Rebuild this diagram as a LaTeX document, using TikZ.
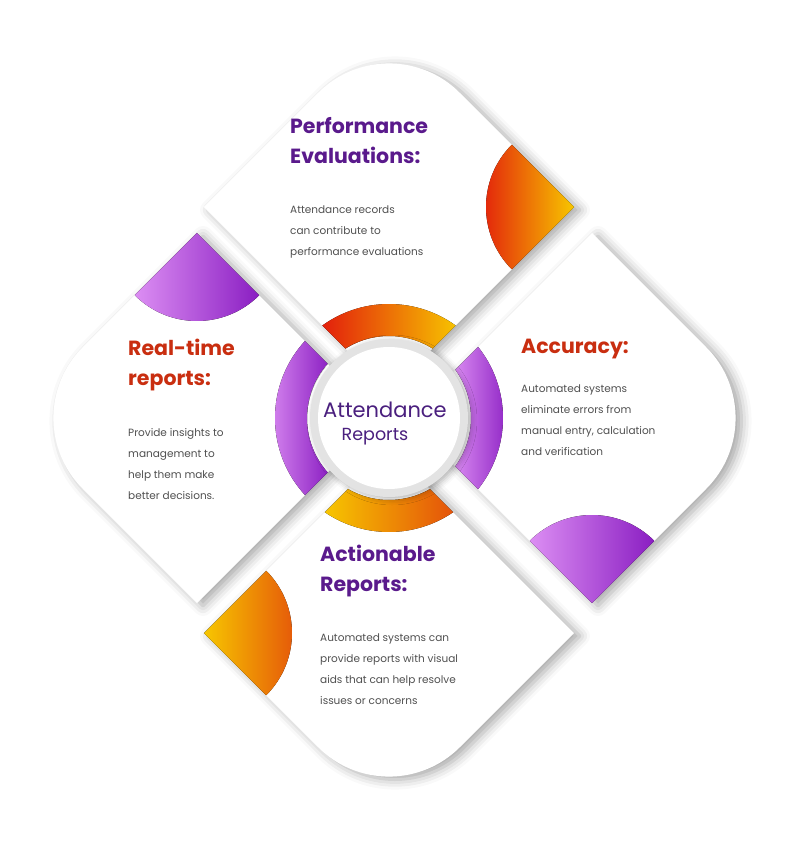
\documentclass[tikz,border=0pt]{standalone}
\usepackage{fontspec}
\setmainfont{Poppins}
\usetikzlibrary{shadows.blur}

\definecolor{evred}{HTML}{E21B0C}
\definecolor{evorange}{HTML}{EE7A05}
\definecolor{evyellow}{HTML}{F7C600}
\definecolor{evdeep}{HTML}{E4520A}
\definecolor{vlight}{HTML}{DC8EF3}
\definecolor{vdark}{HTML}{8A1EC2}
\definecolor{titlepurple}{HTML}{5A1A8C}
\definecolor{titlered}{HTML}{C92E10}
\definecolor{bodygray}{HTML}{505050}
\definecolor{centerpurple}{HTML}{4A1F7E}

\begin{document}
\begin{tikzpicture}[x=1pt, y=1pt,
  card/.style={fill=white, blur shadow={shadow xshift=6pt, shadow yshift=-3pt,
    shadow blur radius=10pt, shadow opacity=35}},
  warm/.style={left color=evred, middle color=evorange, right color=evyellow},
  sunset/.style={left color=evyellow, middle color=evorange, right color=evdeep},
  cool/.style={left color=vlight, right color=vdark},
  title/.style={anchor=north west, inner sep=0pt, align=left,
    font=\fontsize{20.5}{30}\selectfont\bfseries},
  body/.style={anchor=north west, inner sep=0pt, align=left, text=bodygray,
    font=\fontsize{10.5}{21}\selectfont}]

  \useasboundingbox (-389,418) rectangle (411,-428);

  \coordinate (O) at (0,0);
  % top card
  \coordinate (TL) at (-185,211); \coordinate (TT) at (0,396);
  \coordinate (TR) at (185,211);  \coordinate (TB) at (0,26);
  % right card
  \coordinate (RT) at (203,185);  \coordinate (RR) at (388,0);
  \coordinate (RB) at (203,-185); \coordinate (RL) at (18,0);
  % bottom card
  \coordinate (BT) at (0,-30);    \coordinate (BR) at (185,-215);
  \coordinate (BB) at (0,-400);   \coordinate (BL) at (-185,-215);
  % left card
  \coordinate (LT) at (-192,185); \coordinate (LR) at (-7,0);
  \coordinate (LB) at (-192,-185); \coordinate (LL) at (-377,0);

  % left card
  \path[card] (LB) [rounded corners=100pt] -- (LL) [sharp corners] -- (LT) -- (LR) -- cycle;
  \begin{scope}
    \clip (LB) [rounded corners=100pt] -- (LL) [sharp corners] -- (LT) -- (LR) -- cycle;
    \fill[cool] (136:82) arc (136:224:82) -- (224:114) arc (224:136:114) -- cycle;
  \end{scope}
  \fill[cool] (LT) -- ++(225:88) arc (225:315:88) -- cycle;

  % bottom card
  \path[card] (BL) [rounded corners=100pt] -- (BB) [sharp corners] -- (BR) -- (BT) -- cycle;
  \begin{scope}
    \clip (BL) [rounded corners=100pt] -- (BB) [sharp corners] -- (BR) -- (BT) -- cycle;
    \fill[sunset] (235:82) arc (235:305:82) -- (305:114) arc (305:235:114) -- cycle;
  \end{scope}
  \fill[sunset] (BL) -- ++(-45:88) arc (-45:45:88) -- cycle;

  % top card
  \path[card] (TL) [rounded corners=100pt] -- (TT) [sharp corners] -- (TR) -- (TB) -- cycle;
  \begin{scope}
    \clip (TL) [rounded corners=100pt] -- (TT) [sharp corners] -- (TR) -- (TB) -- cycle;
    \fill[warm] (52:82) arc (52:128:82) -- (128:114) arc (128:52:114) -- cycle;
  \end{scope}
  \fill[warm] (TR) -- ++(135:88) arc (135:225:88) -- cycle;

  % right card
  \path[card] (RT) [rounded corners=100pt] -- (RR) [sharp corners] -- (RB) -- (RL) -- cycle;
  \begin{scope}
    \clip (RT) [rounded corners=100pt] -- (RR) [sharp corners] -- (RB) -- (RL) -- cycle;
    \fill[cool] (-40:82) arc (-40:40:82) -- (40:114) arc (40:-40:114) -- cycle;
  \end{scope}
  \fill[cool] (RB) -- ++(45:88) arc (45:135:88) -- cycle;

  % hub
  \fill[gray!22, blur shadow={shadow xshift=3pt, shadow yshift=-2pt,
    shadow blur radius=6pt, shadow opacity=30}] (O) circle (79);
  \fill[white] (O) circle (71);
  \node[text=centerpurple, font=\fontsize{21}{21}\selectfont] (att) at (-4,8) {Attendance};
  \node[text=centerpurple, font=\fontsize{17.5}{18}\selectfont] (rep) at (-14,-19) {Reports};

  % texts
  \node[title, text=titlepurple] (perf) at (-99,301) {Performance\\Evaluations:};
  \node[body] (perfbody) at (-99,212) {Attendance records\\can contribute to\\performance evaluations};
  \node[title, text=titlered] (acc) at (132,79) {Accuracy:};
  \node[body] (accbody) at (132,33) {Automated systems\\eliminate errors from\\manual entry, calculation\\and verification};
  \node[title, text=titlered] (real) at (-261,79) {Real-time\\reports:};
  \node[body] (realbody) at (-261,-10) {Provide insights to\\management to\\help them make\\better decisions.};
  \node[title, text=titlepurple] (act) at (-69,-127) {Actionable\\Reports:};
  \node[body] (actbody) at (-69,-216) {Automated systems can\\provide reports with visual\\aids that can help resolve\\issues or concerns};
\end{tikzpicture}
\end{document}
